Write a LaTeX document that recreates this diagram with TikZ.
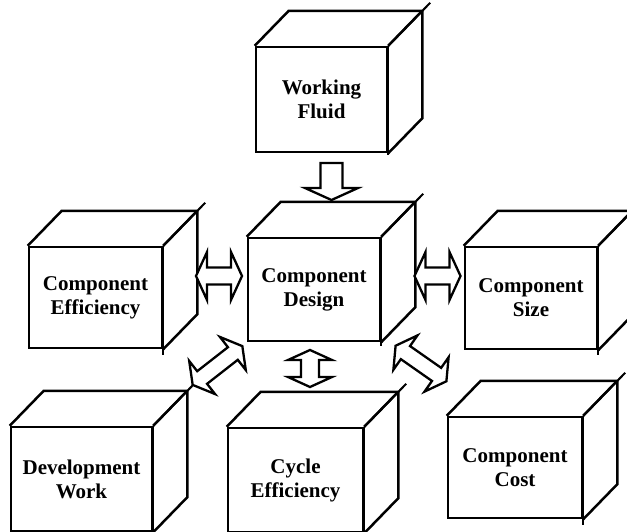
\documentclass[tikz,border=0pt]{standalone}
\usepackage{fontspec}
\setmainfont{Liberation Serif}
\usepackage{tikz}
\usetikzlibrary{calc}

\tikzset{
	blk/.style={draw=black, fill=white, line width=2.3pt, line join=miter, miter limit=6},
	% length, half head width, half shaft width, head length
	pics/onearrow/.style n args={4}{code={
			\draw[blk] ({-#1/2},{-#3}) -- ({#1/2-#4},{-#3}) -- ({#1/2-#4},{-#2}) -- ({#1/2},0)
			-- ({#1/2-#4},{#2}) -- ({#1/2-#4},{#3}) -- ({-#1/2},{#3}) -- cycle;
	}},
	pics/twoarrow/.style n args={4}{code={
			\draw[blk] ({-#1/2},0) -- ({-#1/2+#4},{#2}) -- ({-#1/2+#4},{#3}) -- ({#1/2-#4},{#3})
			-- ({#1/2-#4},{#2}) -- ({#1/2},0) -- ({#1/2-#4},{-#2}) -- ({#1/2-#4},{-#3})
			-- ({-#1/2+#4},{-#3}) -- ({-#1/2+#4},{-#2}) -- cycle;
	}}
}

\begin{document}
\begin{tikzpicture}[
		x=1pt, y=-1pt,
		face/.style={
			rectangle, draw=black, line width=2.5pt,
			minimum width=132pt, minimum height=103pt,
			inner sep=0pt, align=center,
			font=\fontsize{21}{24}\selectfont\bfseries
		},
		edge/.style={line width=2.5pt, line join=miter},
		overshoot/.style={line width=2pt}
		]
		\useasboundingbox (0,0) rectangle (627,531);
		
		% front faces of the cubes
		\node[face, minimum width=131pt, minimum height=105pt] (wf) at (321.5, 99.5) {Working\\Fluid};
		\node[face] (cd) at (314, 289.5) {Component\\Design};
		\node[face, minimum width=133pt, minimum height=101pt] (ce) at (95.5, 297.5) {Component\\Efficiency};
		\node[face, minimum height=102pt] (cs) at (531, 298) {Component\\Size};
		\node[face, minimum width=141pt, minimum height=104pt] (dw) at (81.5, 479) {Development\\Work};
		\node[face, minimum width=135pt, minimum height=104pt] (cy) at (295.5, 480) {Cycle\\Efficiency};
		\node[face, minimum width=134pt, minimum height=101pt] (cc) at (515, 467.5) {Component\\Cost};
		
		% top and side faces
		\foreach \c in {wf,cd,ce,cs,dw,cy,cc} {
			\draw[edge] (\c.north west) -- ++(34,-35) -| ($(\c.south east)+(34,-35)$) -- (\c.south east);
			\draw[edge] (\c.north east) -- ++(34,-35);
			\draw[overshoot] (\c.north east) -- ++(42,-43);
			\draw[overshoot] (\c.north east) -- ++(0,109);
		}
		
		% block arrows
		\pic[rotate=-90] (wfcd) at (331.5, 181.5) {onearrow={37}{26.5}{11}{12}};
		\pic (cecd) at (219, 276) {twoarrow={46}{24}{8.5}{11}};
		\pic (cdcs) at (437.5, 276) {twoarrow={46}{24}{8.5}{11}};
		\pic[rotate=90] (cdcy) at (310, 368.5) {twoarrow={37}{22}{9}{10}};
		\pic[rotate=38] (cddw) at (217.5, 365.5) {twoarrow={63}{21}{8}{12}};
		\pic[rotate=-35] (cdcc) at (421, 363.5) {twoarrow={62}{21}{8}{12}};
\end{tikzpicture}
\end{document}
